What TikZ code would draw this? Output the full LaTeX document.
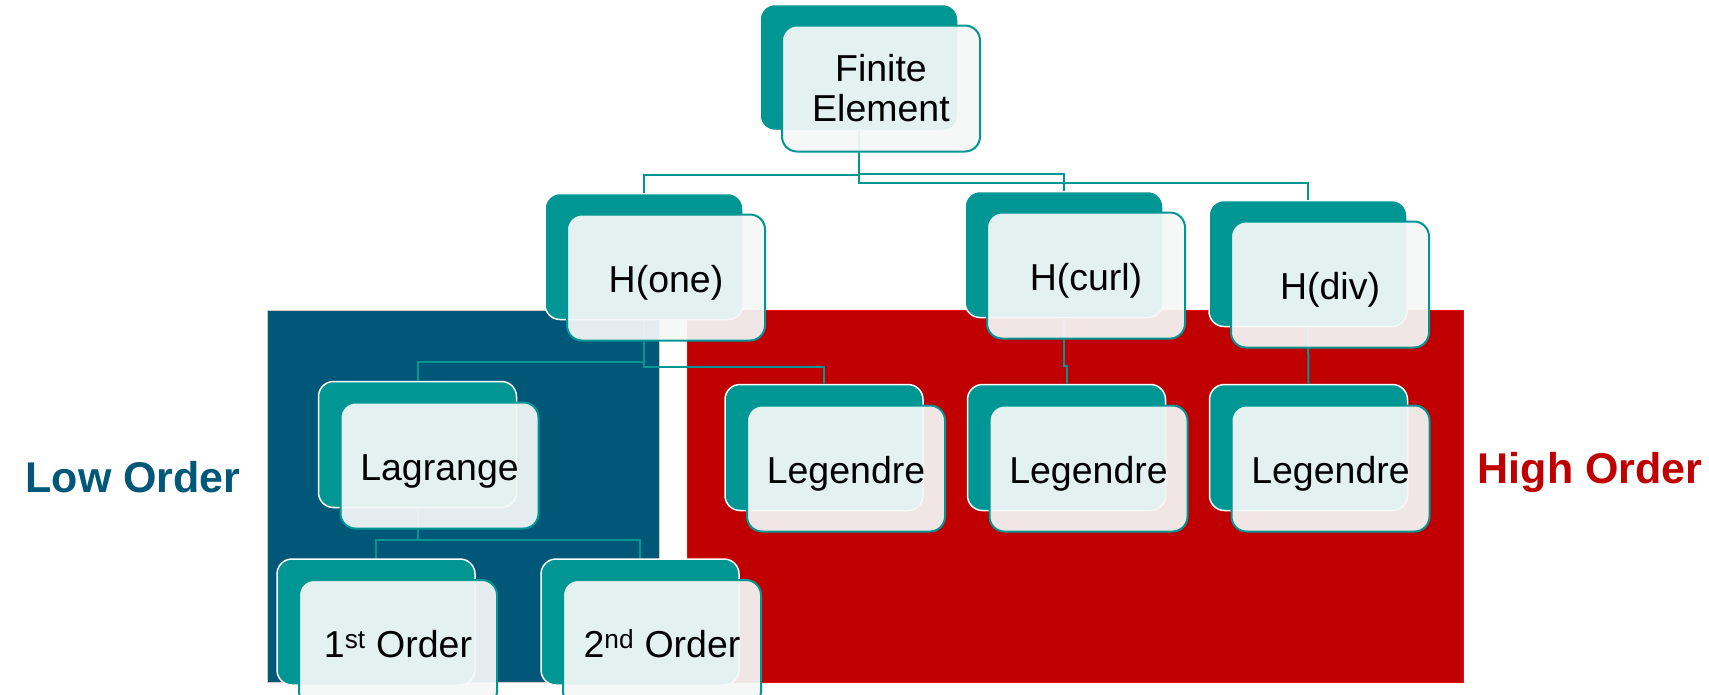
\documentclass[tikz,border=0pt]{standalone}
\usepackage{fontspec}
\setmainfont{Liberation Sans}
\usepackage{tikz}
\usetikzlibrary{positioning,calc}

\definecolor{smartteal}{RGB}{0,150,148}
\definecolor{lowblue}{RGB}{0,87,120}
\definecolor{highred}{RGB}{192,0,0}
\definecolor{boxface}{RGB}{245,248,248}

\begin{document}
\begin{tikzpicture}[x=1pt, y=-1pt,
    backbox/.style={draw=white, line width=1.5pt, fill=smartteal, rounded corners=15pt, minimum width=198pt, minimum height=126pt},
    frontbox/.style={draw=smartteal, line width=2pt, fill=boxface, fill opacity=0.93, text opacity=1, rounded corners=15pt, minimum width=198pt, minimum height=126pt, align=center, font=\fontsize{37.5}{40}\selectfont},
    oneline/.style={text height=34pt, text depth=5pt},
    conn/.style={draw=smartteal, line width=2pt},
    side/.style={font=\bfseries\fontsize{43}{48}\selectfont}]
    \useasboundingbox (0,0) rectangle (1709,694);

    % low / high order regions
    \fill[lowblue, draw=black!20] (267,310) rectangle (659,682);
    \fill[highred, draw=red] (687,310) rectangle (1463,682);
    \node (low) [side, text=lowblue] at (133,477) {Low Order};
    \node (high) [side, text=highred] at (1590,472) {High Order};

    % back boxes
    \node (fe-b) [backbox] at (859,67.5) {};
    \node (hone-b) [backbox] at (644,256.5) {};
    \node (hcurl-b) [backbox] at (1064,254.5) {};
    \node (hdiv-b) [backbox] at (1308,263.5) {};
    \node (lag-b) [backbox] at (417.5,444.5) {};
    \node (leg1-b) [backbox] at (824,447.5) {};
    \node (leg2-b) [backbox] at (1066.5,447.5) {};
    \node (leg3-b) [backbox] at (1308.5,447.5) {};
    \node (ord1-b) [backbox] at (376,622) {};
    \node (ord2-b) [backbox] at (640,622) {};

    % connectors
    \draw[conn] (fe-b.south) -- ++(0,44) -| (hone-b.north);
    \draw[conn] (fe-b.south) -- ++(0,43) -| (hcurl-b.north);
    \draw[conn] (fe-b.south) -- ++(0,52) -| (hdiv-b.north);
    \draw[conn] (hone-b.south) -- ++(0,42) -| (lag-b.north);
    \draw[conn] (hone-b.south) -- ++(0,47) -| (leg1-b.north);
    \draw[conn] (hcurl-b.south) -- ++(0,48) -| (leg2-b.north);
    \draw[conn] (hdiv-b.south) -- (leg3-b.north);
    \draw[conn] (lag-b.south) -- ++(0,32) -| (ord1-b.north);
    \draw[conn] (lag-b.south) -- ++(0,32) -| (ord2-b.north);

    % front boxes
    \node (fe) [frontbox] at ([shift={(22,21)}]fe-b) {Finite\\Element};
    \node (hone) [frontbox, oneline] at ([shift={(22,21)}]hone-b) {H(one)};
    \node (hcurl) [frontbox, oneline] at ([shift={(22,21)}]hcurl-b) {H(curl)};
    \node (hdiv) [frontbox, oneline] at ([shift={(22,21)}]hdiv-b) {H(div)};
    \node (lag) [frontbox, oneline] at ([shift={(22,21)}]lag-b) {Lagrange};
    \node (leg1) [frontbox, oneline] at ([shift={(22,21)}]leg1-b) {Legendre};
    \node (leg2) [frontbox, oneline] at ([shift={(22,21)}]leg2-b) {Legendre};
    \node (leg3) [frontbox, oneline] at ([shift={(22,21)}]leg3-b) {Legendre};
    \node (ord1) [frontbox, oneline] at ([shift={(22,21)}]ord1-b) {1\textsuperscript{st} Order};
    \node (ord2) [frontbox, oneline] at ([shift={(22,21)}]ord2-b) {2\textsuperscript{nd} Order};
\end{tikzpicture}
\end{document}
